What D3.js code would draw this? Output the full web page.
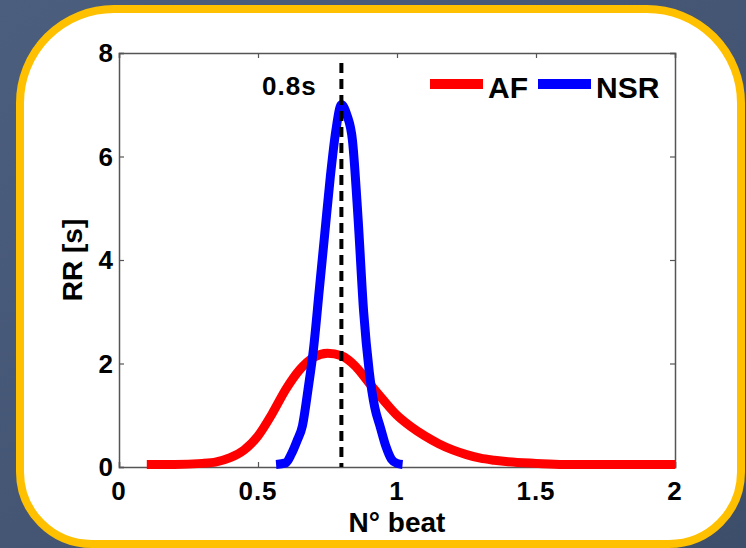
<!DOCTYPE html>
<html>
<head>
<meta charset="utf-8">
<script src="https://cdn.jsdelivr.net/npm/d3@7"></script>
<style>
  html, body { margin: 0; padding: 0; }
  body { width: 746px; height: 548px; overflow: hidden; }
  text { font-family: "Liberation Sans", Arial, sans-serif; font-weight: bold; fill: #000; }
</style>
</head>
<body>
<svg id="chart"></svg>
<script>
// data
var afX  = [0.10, 0.20, 0.30, 0.35, 0.40, 0.45, 0.50, 0.55, 0.60, 0.65, 0.70, 0.75, 0.80, 0.85, 0.90, 0.95, 1.00, 1.05, 1.10, 1.15, 1.20, 1.25, 1.30, 1.35, 1.40, 1.50, 1.60, 1.70, 1.80, 1.90, 2.00];
var afY  = [0.05, 0.05, 0.07, 0.10, 0.18, 0.33, 0.60, 1.02, 1.50, 1.88, 2.12, 2.20, 2.15, 1.95, 1.62, 1.30, 1.00, 0.78, 0.60, 0.45, 0.33, 0.24, 0.17, 0.13, 0.10, 0.07, 0.05, 0.05, 0.05, 0.05, 0.05];
var nsrX = [0.565, 0.60, 0.62, 0.64, 0.66, 0.68, 0.70, 0.72, 0.74, 0.76, 0.78, 0.80, 0.82, 0.84, 0.86, 0.88, 0.90, 0.92, 0.94, 0.96, 0.98, 1.00, 1.02];
var nsrY = [0.05, 0.08, 0.25, 0.50, 0.80, 1.50, 2.30, 3.40, 4.50, 5.60, 6.50, 7.00, 6.80, 6.30, 4.80, 3.00, 1.85, 1.15, 0.77, 0.40, 0.15, 0.07, 0.05];
var refX = 0.8;
var refLabel = "0.8s";
var xTicks = [0, 0.5, 1, 1.5, 2];
var yTicks = [0, 2, 4, 6, 8];
var seriesNames = ["AF", "NSR"];
var seriesColors = ["#ff0000", "#0000ff"];
var xTitle = "N\u00b0 beat";
var yTitle = "RR [s]";

var svgWidth = 746;
var svgHeight = 548;

var plotLeft = 119;
var plotRight = 675;
var plotTop = 53;
var plotBottom = 467;

var svg = d3.select("#chart")
    .attr("width", svgWidth)
    .attr("height", svgHeight);

var defs = svg.append("defs");
var grad = defs.append("linearGradient")
    .attr("id", "bg")
    .attr("x1", "0").attr("y1", "0")
    .attr("x2", "1").attr("y2", "1");
grad.append("stop").attr("offset", "0").attr("stop-color", "#4c5e7e");
grad.append("stop").attr("offset", "1").attr("stop-color", "#3d4e6b");

svg.append("rect")
    .attr("width", svgWidth)
    .attr("height", svgHeight)
    .attr("fill", "url(#bg)");

// rounded frame, top corners rounder than bottom ones
function frame(x0, y0, x1, y1, rt, rb) {
    return "M" + (x0 + rt) + "," + y0 +
        " L" + (x1 - rt) + "," + y0 +
        " A" + rt + "," + rt + " 0 0 1 " + x1 + "," + (y0 + rt) +
        " L" + x1 + "," + (y1 - rb) +
        " A" + rb + "," + rb + " 0 0 1 " + (x1 - rb) + "," + y1 +
        " L" + (x0 + rb) + "," + y1 +
        " A" + rb + "," + rb + " 0 0 1 " + x0 + "," + (y1 - rb) +
        " L" + x0 + "," + (y0 + rt) +
        " A" + rt + "," + rt + " 0 0 1 " + (x0 + rt) + "," + y0 + " Z";
}

svg.append("path")
    .attr("d", frame(20, 9, 741, 544, 94, 72))
    .attr("fill", "#ffffff")
    .attr("stroke", "#ffc000")
    .attr("stroke-width", 8);

var x = d3.scaleLinear().domain([0, 2]).range([plotLeft, plotRight]);
var y = d3.scaleLinear().domain([0, 8]).range([plotBottom, plotTop]);

// axes with inward ticks on all four sides
var tickLen = 5;
svg.append("g")
    .attr("transform", "translate(0," + plotBottom + ")")
    .call(d3.axisTop(x).tickValues(xTicks).tickSize(tickLen).tickFormat(""));
svg.append("g")
    .attr("transform", "translate(0," + plotTop + ")")
    .call(d3.axisBottom(x).tickValues(xTicks).tickSize(tickLen).tickFormat(""));
svg.append("g")
    .attr("transform", "translate(" + plotLeft + ",0)")
    .call(d3.axisRight(y).tickValues(yTicks).tickSize(tickLen).tickFormat(""));
svg.append("g")
    .attr("transform", "translate(" + plotRight + ",0)")
    .call(d3.axisLeft(y).tickValues(yTicks).tickSize(tickLen).tickFormat(""));

svg.selectAll(".domain").attr("stroke", "#555").attr("stroke-width", 1.5);
svg.selectAll(".tick line").attr("stroke", "#555").attr("stroke-width", 1.2);

// tick labels
svg.selectAll(".xlab")
    .data(xTicks)
    .enter().append("text")
    .attr("x", function (d) { return x(d); })
    .attr("y", plotBottom + 33)
    .attr("text-anchor", "middle")
    .attr("font-size", 26)
    .attr("letter-spacing", 1)
    .text(function (d) { return d; });

svg.selectAll(".ylab")
    .data(yTicks)
    .enter().append("text")
    .attr("x", plotLeft - 6)
    .attr("y", function (d) { return y(d) + 9; })
    .attr("text-anchor", "end")
    .attr("font-size", 26)
    .text(function (d) { return d; });

svg.append("text")
    .attr("x", (plotLeft + plotRight) / 2)
    .attr("y", 532)
    .attr("text-anchor", "middle")
    .attr("font-size", 28)
    .text(xTitle);

svg.append("text")
    .attr("transform", "translate(82," + (plotTop + plotBottom) / 2 + ") rotate(-90)")
    .attr("text-anchor", "middle")
    .attr("font-size", 28)
    .text(yTitle);

// curves
var line = d3.line()
    .x(function (d) { return x(d[0]); })
    .y(function (d) { return y(d[1]); })
    .curve(d3.curveMonotoneX);

svg.append("path")
    .datum(d3.zip(afX, afY))
    .attr("d", line)
    .attr("fill", "none")
    .attr("stroke", seriesColors[0])
    .attr("stroke-width", 9);

svg.append("path")
    .datum(d3.zip(nsrX, nsrY))
    .attr("d", line)
    .attr("fill", "none")
    .attr("stroke", seriesColors[1])
    .attr("stroke-width", 9);

// reference line
svg.append("line")
    .attr("x1", x(refX)).attr("x2", x(refX))
    .attr("y1", 63).attr("y2", plotBottom)
    .attr("stroke", "#000")
    .attr("stroke-width", 4)
    .attr("stroke-dasharray", "10,6");

svg.append("text")
    .attr("x", 262)
    .attr("y", 95)
    .attr("font-size", 26)
    .attr("letter-spacing", 1)
    .text(refLabel);

// legend
var legendX = [430, 538];
seriesNames.forEach(function (name, i) {
    svg.append("line")
        .attr("x1", legendX[i]).attr("x2", legendX[i] + 53)
        .attr("y1", 84).attr("y2", 84)
        .attr("stroke", seriesColors[i])
        .attr("stroke-width", 10);
    svg.append("text")
        .attr("x", legendX[i] + 58)
        .attr("y", 98)
        .attr("font-size", 30)
        .text(name);
});
</script>
</body>
</html>
